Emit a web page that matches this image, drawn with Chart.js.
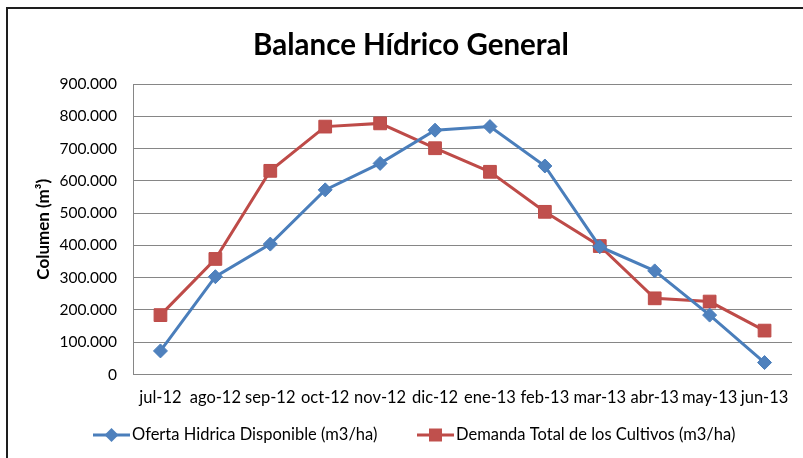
<!DOCTYPE html>
<html>
<head>
<meta charset="utf-8">
<script src="https://cdn.jsdelivr.net/npm/chart.js@4.4.1/dist/chart.umd.min.js"></script>
<style>
html, body { margin: 0; padding: 0; background: #fff; overflow: hidden; }
#marco { position: absolute; left: 6px; top: 7px; width: 900px; height: 600px;
         border-left: 2px solid #1e1e1e; border-top: 2px solid #1e1e1e; }
#caja { position: absolute; left: 8px; top: 9px; width: 806px; height: 449px; }
</style>
</head>
<body>
<div id="marco"></div>
<div id="caja"><canvas id="balance-chart"></canvas></div>
<script>
// meses del periodo
var meses = ['jul-12', 'ago-12', 'sep-12', 'oct-12', 'nov-12', 'dic-12',
             'ene-13', 'feb-13', 'mar-13', 'abr-13', 'may-13', 'jun-13'];

// Oferta Hidrica Disponible (m3/ha)
var oferta = [73000, 303000, 404000, 572000, 654000, 757000,
              768000, 646000, 396000, 321000, 184000, 37000];

// Demanda Total de los Cultivos (m3/ha)
var demanda = [184000, 358000, 631000, 768000, 778000, 701000,
               628000, 504000, 398000, 236000, 226000, 136000];

// eje y
var yMin = 0;
var yMax = 900000;
var yPaso = 100000;

var fuente = 'Lato, "Open Sans", sans-serif';

function miles(v) {
    return String(Math.round(v)).replace(/\B(?=(\d{3})+(?!\d))/g, '.');
}

//////leyenda con linea y marcador, como en excel//////
var leyendaLinea = {
    id: 'leyendaLinea',
    afterDraw: function (chart) {
        var ctx = chart.ctx;
        var y = 426;
        var inicios = [85, 409];
        ctx.save();
        ctx.font = '16.5px ' + fuente;
        ctx.textBaseline = 'middle';
        chart.data.datasets.forEach(function (ds, i) {
            var x = inicios[i];
            ctx.strokeStyle = ds.borderColor;
            ctx.lineWidth = 3;
            ctx.beginPath();
            ctx.moveTo(x, y);
            ctx.lineTo(x + 37, y);
            ctx.stroke();
            var cx = x + 18.5;
            ctx.fillStyle = ds.pointBackgroundColor;
            ctx.beginPath();
            if (ds.pointStyle === 'rectRot') {
                ctx.moveTo(cx, y - 7);
                ctx.lineTo(cx + 7, y);
                ctx.lineTo(cx, y + 7);
                ctx.lineTo(cx - 7, y);
                ctx.closePath();
            } else {
                ctx.rect(cx - 6.5, y - 6.5, 13, 13);
            }
            ctx.fill();
            ctx.fillStyle = '#000';
            ctx.fillText(ds.label, x + 39, y);
        });
        ctx.restore();
    }
};

var ctx = document.getElementById('balance-chart').getContext('2d');
var chart = new Chart(ctx, {
    type: 'line',
    data: {
        labels: meses,
        datasets: [{
            label: 'Oferta Hidrica Disponible (m3/ha)',
            data: oferta,
            borderColor: '#4A7EBB',
            backgroundColor: '#4F81BD',
            pointBackgroundColor: '#4F81BD',
            pointBorderColor: '#4A7EBB',
            pointBorderWidth: 1,
            pointStyle: 'rectRot',
            pointRadius: 7,
            borderWidth: 3,
            tension: 0,
            fill: false
        }, {
            label: 'Demanda Total de los Cultivos (m3/ha)',
            data: demanda,
            borderColor: '#BE4B48',
            backgroundColor: '#C0504D',
            pointBackgroundColor: '#C0504D',
            pointBorderColor: '#BE4B48',
            pointBorderWidth: 1,
            pointStyle: 'rect',
            pointRadius: 9,
            borderWidth: 3,
            tension: 0,
            fill: false
        }]
    },
    options: {
        responsive: true,
        maintainAspectRatio: false,
        animation: false,
        layout: { padding: { left: 22, right: 22, top: 0, bottom: 0 } },
        plugins: {
            legend: { display: false },
            tooltip: { enabled: false },
            title: {
                display: true,
                text: 'Balance Hídrico General',
                color: '#000',
                font: { family: fuente, size: 29.5, weight: 'bold', lineHeight: 1.2 },
                padding: { top: 18.3, bottom: 21.3 }
            }
        },
        scales: {
            x: {
                offset: true,
                grid: { display: false, drawTicks: false },
                border: { display: false },
                ticks: {
                    color: '#000',
                    padding: 13,
                    maxRotation: 0,
                    autoSkip: false,
                    font: { family: fuente, size: 16.5 }
                },
                afterFit: function (scale) { scale.height = 83.5; }
            },
            y: {
                min: yMin,
                max: yMax,
                grid: { color: '#868686', lineWidth: 1, drawTicks: false },
                border: { color: '#868686', width: 1 },
                ticks: {
                    stepSize: yPaso,
                    color: '#000',
                    padding: 16,
                    font: { family: fuente, size: 15.5 },
                    callback: function (v) { return miles(v); }
                },
                title: {
                    display: true,
                    text: 'Columen (m³)',
                    color: '#000',
                    font: { family: fuente, size: 17, weight: 'bold', lineHeight: 1.2 },
                    padding: { top: 3, bottom: 0 }
                },
                afterFit: function (scale) { scale.width = 103; }
            }
        }
    },
    plugins: [leyendaLinea]
});
</script>
</body>
</html>
